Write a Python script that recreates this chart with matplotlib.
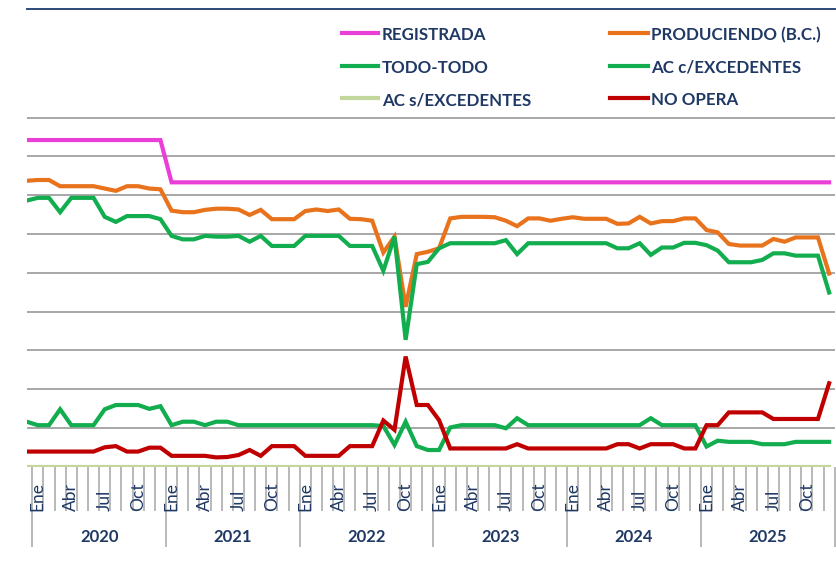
import numpy as np
import matplotlib
matplotlib.use("Agg")
import matplotlib.pyplot as plt
from matplotlib.lines import Line2D
import matplotlib.transforms as mtransforms

# ---------------- data (Dec-2019 .. Dec-2025, monthly, 73 points) ----------------
years = ["2020", "2021", "2022", "2023", "2024", "2025"]
month_labels = ["Ene", "Abr", "Jul", "Oct"]
month_label_offsets = [0, 3, 6, 9]

registrada = [8.42] * 13 + [7.33] * 60

produciendo = [7.37, 7.39, 7.39, 7.23, 7.23, 7.23, 7.23, 7.17, 7.11, 7.23, 7.23, 7.17, 7.15,
               6.60, 6.56, 6.56, 6.62, 6.65, 6.65,
               6.63, 6.49, 6.62, 6.38, 6.38, 6.38, 6.59, 6.63, 6.59, 6.63, 6.39, 6.38, 6.34,
               5.52, 5.93, 4.12, 5.48, 5.54,
               5.63, 6.40, 6.44, 6.44, 6.44, 6.43, 6.34, 6.20, 6.40, 6.40, 6.34, 6.39, 6.43,
               6.39, 6.39, 6.39, 6.26, 6.27,
               6.44, 6.27, 6.33, 6.33, 6.40, 6.40, 6.10, 6.04, 5.74, 5.70, 5.70, 5.70, 5.87,
               5.80, 5.91, 5.91, 5.91, 4.98]

todo_todo = [6.86, 6.93, 6.93, 6.56, 6.93, 6.93, 6.93, 6.44, 6.31, 6.46, 6.46, 6.46, 6.38,
             5.95, 5.86, 5.86, 5.95, 5.93, 5.93,
             5.95, 5.80, 5.95, 5.69, 5.69, 5.69, 5.95, 5.95, 5.95, 5.95, 5.69, 5.69, 5.69,
             5.05, 5.93, 3.27, 5.22, 5.28,
             5.63, 5.76, 5.76, 5.76, 5.76, 5.76, 5.84, 5.48, 5.76, 5.76, 5.76, 5.76, 5.76,
             5.76, 5.76, 5.76, 5.63, 5.63,
             5.76, 5.46, 5.65, 5.65, 5.77, 5.77, 5.71, 5.57, 5.27, 5.27, 5.27, 5.33, 5.50,
             5.50, 5.44, 5.44, 5.44, 4.49]

ac_con_exc = [1.16, 1.07, 1.07, 1.48, 1.07, 1.07, 1.07, 1.48, 1.59, 1.59, 1.59, 1.49, 1.56,
              1.07, 1.16, 1.16, 1.07, 1.16, 1.16,
              1.07, 1.07, 1.07, 1.07, 1.07, 1.07, 1.07, 1.07, 1.07, 1.07, 1.07, 1.07, 1.07,
              1.05, 0.56, 1.16, 0.53, 0.43,
              0.43, 1.01, 1.07, 1.07, 1.07, 1.07, 0.99, 1.25, 1.07, 1.07, 1.07, 1.07, 1.07,
              1.07, 1.07, 1.07, 1.07, 1.07,
              1.07, 1.25, 1.07, 1.07, 1.07, 1.07, 0.52, 0.67, 0.64, 0.64, 0.64, 0.58, 0.58,
              0.58, 0.64, 0.64, 0.64, 0.64]

ac_sin_exc = [0.0] * 73

no_opera = [0.39, 0.39, 0.39, 0.39, 0.39, 0.39, 0.39, 0.50, 0.53, 0.39, 0.39, 0.49, 0.49,
            0.28, 0.28, 0.28, 0.28, 0.24, 0.25,
            0.30, 0.43, 0.28, 0.53, 0.53, 0.53, 0.28, 0.28, 0.28, 0.28, 0.53, 0.53, 0.53,
            1.19, 0.95, 2.84, 1.59, 1.59,
            1.20, 0.47, 0.47, 0.47, 0.47, 0.47, 0.47, 0.58, 0.47, 0.47, 0.47, 0.47, 0.47,
            0.47, 0.47, 0.47, 0.58, 0.58,
            0.47, 0.58, 0.58, 0.58, 0.47, 0.47, 1.07, 1.07, 1.40, 1.40, 1.40, 1.40, 1.23,
            1.23, 1.23, 1.23, 1.23, 2.15]

series = [
    ("REGISTRADA", registrada, "#ea3fd6"),
    ("PRODUCIENDO (B.C.)", produciendo, "#e8731c"),
    ("TODO-TODO", todo_todo, "#12ad4f"),
    ("AC c/EXCEDENTES", ac_con_exc, "#12ad4f"),
    ("AC s/EXCEDENTES", ac_sin_exc, "#c3d69b"),
    ("NO OPERA", no_opera, "#c00000"),
]

# ---------------- figure ----------------
W, H = 837, 578
fig = plt.figure(figsize=(W / 100, H / 100), dpi=100)
ax_left, ax_right, ax_bot, ax_top = 26.7, 834.7, 466.7, 9.3
ax = fig.add_axes([ax_left / W, (H - ax_bot) / H, (ax_right - ax_left) / W, (ax_bot - ax_top) / H])

FONT = "Lato"
NAVY = "#1f3864"

x = np.arange(len(registrada))
for name, vals, col in series:
    ax.plot(x, vals, color=col, lw=3.0, solid_joinstyle="miter", zorder=3)

ax.set_xlim(0, 72.5)
ax.set_ylim(0, 11.79)

# gridlines
ax.set_yticks(np.arange(1, 10))
ax.yaxis.grid(True, color="#8f8f8f", lw=1.1)
ax.tick_params(axis="y", length=0, labelleft=False)
ax.set_axisbelow(True)

for s in ["left", "right", "bottom"]:
    ax.spines[s].set_visible(False)
ax.spines["top"].set_color("#2e4a7a")
ax.spines["top"].set_linewidth(1.4)

# x ticks: month boundaries (minor) and year boundaries (major)
ax.set_xticks([0.5 + 12 * k for k in range(7)])
ax.set_xticks([0.5 + k for k in range(73)], minor=True)
ax.tick_params(axis="x", which="major", length=80 / 1.389, width=1.1, color="#a6a6a6",
               labelbottom=False, direction="out")
ax.tick_params(axis="x", which="minor", length=44 / 1.389, width=1.1, color="#a6a6a6",
               direction="out")

trans = mtransforms.blended_transform_factory(ax.transData, ax.transAxes)
axh = ax_bot - ax_top
lab_y = (ax_bot - 511) / axh
year_y = (ax_bot - 536.7) / axh
for yi, yr in enumerate(years):
    for lab, off in zip(month_labels, month_label_offsets):
        ax.text(1 + 12 * yi + off, lab_y, lab, transform=trans, rotation=90,
                ha="center", va="bottom", fontsize=12.5, color=NAVY, family=FONT)
    ax.text(0.5 + 12 * yi + 6, year_y, yr, transform=trans, ha="center", va="center",
            fontsize=12, fontweight="bold", color=NAVY, family=FONT)

# legend (2 columns x 3 rows, row-wise order)
col_handles = [(342, 378, 382), (610, 648, 651)]
row_centers = [33.3, 65.7, 98.3]
row_baselines = [40.0, 72.7, 105.0]
for k, (name, vals, col) in enumerate(series):
    r, c = divmod(k, 2)
    hx0, hx1, tx = col_handles[c]
    yc = 1 - row_centers[r] / H
    fig.add_artist(Line2D([hx0 / W, hx1 / W], [yc, yc], transform=fig.transFigure,
                          color=col, lw=3.0))
    fig.text(tx / W, 1 - row_baselines[r] / H, name, ha="left", va="baseline",
             fontsize=12.2, fontweight="bold", color=NAVY, family=FONT)

fig.savefig("out.png", dpi=100)
